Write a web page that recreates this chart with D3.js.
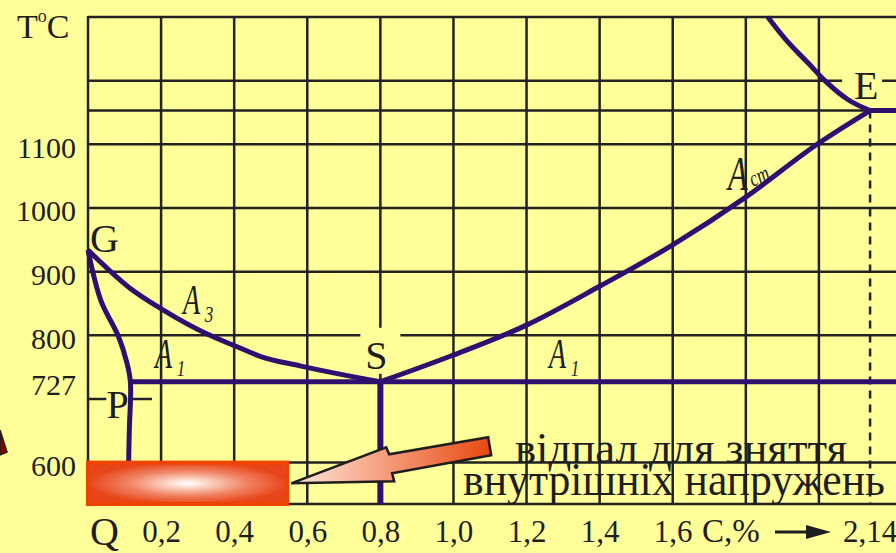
<!DOCTYPE html>
<html>
<head>
<meta charset="utf-8">
<script src="https://cdn.jsdelivr.net/npm/d3@7"></script>
<style>
body { margin: 0; background: #ffff99; overflow: hidden; }
svg { display: block; }
text { font-family: "Liberation Serif", "Times New Roman", serif; fill: #1e1e1e; }
</style>
</head>
<body>
<div id="chart"></div>
<script>
const width = 896;
const height = 553;

// Carbon content (%) and temperature (°C)
const carbonTicks = [0.2, 0.4, 0.6, 0.8, 1.0, 1.2, 1.4, 1.6];
const carbonGrid = [0.2, 0.4, 0.6, 0.8, 1.0, 1.2, 1.4, 1.6, 1.8, 2.0];
const tempTicks = [600, 727, 800, 900, 1000, 1100];
const tempGrid = [600, 800, 900, 1000, 1100, 1153, 1200, 1300];

// Phase lines, [carbon, temperature]
const lineGS = [[0, 934], [0.115, 874], [0.205, 840], [0.326, 802], [0.408, 782], [0.471, 767], [0.58, 752], [0.689, 739], [0.8, 727]];
const lineGPQ = [[0, 934], [0.035, 855], [0.082, 800], [0.105, 760], [0.116, 727], [0.113, 650], [0.11, 560], [0.11, 535]];
const lineSE = [[0.8, 727], [1.0, 769], [1.2, 816], [1.4, 877], [1.6, 942], [1.8, 1017], [2.0, 1102], [2.14, 1153]];
const lineBC = [[1.86, 1300], [1.91, 1264], [1.97, 1228], [2.02, 1198], [2.08, 1170], [2.14, 1153]];
const lineA1 = [[0.116, 727], [2.3, 727]];
const lineECF = [[2.14, 1153], [2.3, 1153]];
const lineSQ = [[0.8, 727], [0.8, 535]];

// Annealing zone
const annealC = [0, 0.545];
const annealT = [535, 600];

const x = d3.scaleLinear().domain([0, 2.2]).range([88, 892]);
const y = d3.scaleLinear().domain([535, 1300]).range([504, 17]);

const svg = d3.select("#chart")
    .append("svg")
    .attr("width", width)
    .attr("height", height);

const defs = svg.append("defs");

const glow = defs.append("radialGradient").attr("id", "glow");
glow.append("stop").attr("offset", "0%").attr("stop-color", "#ffffff");
glow.append("stop").attr("offset", "15%").attr("stop-color", "#fce2d6");
glow.append("stop").attr("offset", "60%").attr("stop-color", "#f08262");
glow.append("stop").attr("offset", "100%").attr("stop-color", "#e8461a");

const arrowGrad = defs.append("linearGradient").attr("id", "arrowGrad");
arrowGrad.append("stop").attr("offset", "0%").attr("stop-color", "#ffe8de");
arrowGrad.append("stop").attr("offset", "100%").attr("stop-color", "#e8480e");

svg.append("rect")
    .attr("width", width)
    .attr("height", height)
    .attr("fill", "#ffff99");

// Grid
const grid = svg.append("g").attr("stroke", "#222").attr("stroke-width", 2.5);

grid.selectAll(".vgrid")
    .data(carbonGrid)
    .join("line")
    .attr("x1", d => x(d)).attr("x2", d => x(d))
    .attr("y1", y(1300)).attr("y2", y(535));

grid.selectAll(".hgrid")
    .data(tempGrid)
    .join("line")
    .attr("x1", x(0)).attr("x2", width)
    .attr("y1", d => y(d)).attr("y2", d => y(d));

grid.append("line")
    .attr("x1", x(0)).attr("x2", x(0))
    .attr("y1", y(1300) - 1).attr("y2", y(535) + 1);

grid.append("line")
    .attr("x1", x(0)).attr("x2", width)
    .attr("y1", y(535)).attr("y2", y(535));

// short mark near P
grid.append("line")
    .attr("x1", x(0)).attr("x2", x(0.175))
    .attr("y1", y(700)).attr("y2", y(700));

// dashed line at 2,14
svg.append("line")
    .attr("x1", x(2.14)).attr("x2", x(2.14))
    .attr("y1", y(1153)).attr("y2", y(535))
    .attr("stroke", "#222")
    .attr("stroke-width", 2.5)
    .attr("stroke-dasharray", "8,6");

// Axes
const yAxis = d3.axisLeft(y).tickValues(tempTicks).tickSize(0).tickPadding(12).tickFormat(d3.format("d"));
svg.append("g")
    .attr("transform", `translate(${x(0)},0)`)
    .call(yAxis)
    .call(g => g.select(".domain").remove())
    .selectAll("text")
    .attr("dy", "0.43em")
    .style("font-size", "30px")
    .style("font-family", "Liberation Serif")
    .attr("fill", "#1e1e1e");

const fmt = d => d3.format(".1f")(d).replace(".", ",");
const xAxis = d3.axisBottom(x).tickValues(carbonTicks).tickSize(0).tickFormat(fmt);
svg.append("g")
    .attr("transform", `translate(0,${y(535)})`)
    .call(xAxis)
    .call(g => g.select(".domain").remove())
    .selectAll("text")
    .attr("y", 38)
    .attr("dy", 0)
    .style("font-size", "31px")
    .style("font-family", "Liberation Serif")
    .attr("fill", "#1e1e1e");

svg.append("text")
    .attr("x", x(2.14))
    .attr("y", y(535) + 38)
    .attr("text-anchor", "middle")
    .style("font-size", "31px")
    .text("2,14");

svg.append("text")
    .attr("x", 702)
    .attr("y", y(535) + 38)
    .style("font-size", "33px")
    .text("C,%");

svg.append("path")
    .attr("d", `M775,${y(535) + 28}H812`)
    .attr("stroke", "#1e1e1e")
    .attr("stroke-width", 3);
svg.append("path")
    .attr("d", `M806,${y(535) + 21}L831,${y(535) + 28}L806,${y(535) + 35}Z`)
    .attr("fill", "#1e1e1e");

// Title
const title = svg.append("text").attr("x", 17).attr("y", 38).style("font-size", "34px");
title.append("tspan").text("T");
title.append("tspan").attr("dy", -16).style("font-size", "18px").text("o");
title.append("tspan").attr("dy", 16).text("C");

// Point labels with background patches
function pointLabel(txt, px, py, box) {
    if (box) {
        svg.append("rect")
            .attr("x", box[0]).attr("y", box[1])
            .attr("width", box[2]).attr("height", box[3])
            .attr("fill", "#ffff99");
    }
    svg.append("text")
        .attr("x", px).attr("y", py)
        .style("font-size", "40px")
        .text(txt);
}

pointLabel("G", x(0) + 2, y(934) + 2);
pointLabel("S", x(0.8) - 15, y(727) - 13, [x(0.8) - 20, y(727) - 54, 40, 46]);
pointLabel("E", x(2.14) - 16, y(1153) - 12, [x(2.14) - 28, y(1153) - 42, 40, 34]);
pointLabel("P", x(0.116) - 24, y(727) + 36, [x(0.116) - 24, y(727) + 6, 26, 30]);
pointLabel("Q", x(0) + 2, y(535) + 41);

// Critical line labels
function critLabel(sub, px, py, size, rot) {
    const g = svg.append("g").attr("transform", `translate(${px},${py})`);
    g.append("text")
        .attr("transform", "scale(0.85,1.25)")
        .style("font-size", size + "px")
        .style("font-style", "italic")
        .text("A");
    g.append("text")
        .attr("transform", `translate(${size * 0.66},${rot ? -3 : 8}) rotate(${rot || 0}) scale(0.9,1.2)`)
        .style("font-size", "19px")
        .style("font-style", "italic")
        .text(sub);
}

critLabel("1", 155, 368, 33);
critLabel("3", 183, 314, 33);
critLabel("1", 549, 368, 33);
critLabel("cm", 728, 190, 38, -25);

// Phase lines
const line = d3.line().x(d => x(d[0])).y(d => y(d[1]));
const smooth = d3.line().x(d => x(d[0])).y(d => y(d[1])).curve(d3.curveMonotoneX);
const bend = d3.line().x(d => x(d[0])).y(d => y(d[1])).curve(d3.curveCatmullRom.alpha(0.5));

const purple = "#2e1070";
[lineGS, lineSE, lineBC].forEach(pts => {
    svg.append("path")
        .attr("d", smooth(pts))
        .attr("fill", "none")
        .attr("stroke", purple)
        .attr("stroke-width", 5);
});
svg.append("path")
    .attr("d", bend(lineGPQ))
    .attr("fill", "none")
    .attr("stroke", purple)
    .attr("stroke-width", 5);
[lineA1, lineECF].forEach(pts => {
    svg.append("path")
        .attr("d", line(pts))
        .attr("fill", "none")
        .attr("stroke", purple)
        .attr("stroke-width", 5);
});
svg.append("path")
    .attr("d", line(lineSQ))
    .attr("fill", "none")
    .attr("stroke", purple)
    .attr("stroke-width", 6);

// Annealing rectangle, over the P-Q line
svg.append("rect")
    .attr("x", x(annealC[0]))
    .attr("y", y(annealT[1]))
    .attr("width", x(annealC[1]) - x(annealC[0]))
    .attr("height", y(annealT[0]) - y(annealT[1]))
    .attr("fill", "url(#glow)")
    .attr("stroke", "#ee4400")
    .attr("stroke-width", 4);

// Pointer arrow
const tipX = x(annealC[1]) + 4;
const tipY = (y(annealT[0]) + y(annealT[1])) / 2;
const arrowShape = [[0, 0], [103, -2], [101, -10], [200, -28], [197, -46], [98, -29], [95, -36]];
svg.append("path")
    .attr("d", "M" + arrowShape.map(p => [tipX + p[0], tipY + p[1]].join(",")).join("L") + "Z")
    .attr("fill", "url(#arrowGrad)")
    .attr("stroke", "#1e1e1e")
    .attr("stroke-width", 2.5)
    .attr("stroke-linejoin", "miter");

// Annotation
svg.append("text")
    .attr("x", 515).attr("y", 463)
    .attr("textLength", 332)
    .attr("lengthAdjust", "spacingAndGlyphs")
    .style("font-size", "45px")
    .text("відпал  для зняття");
svg.append("text")
    .attr("x", 463).attr("y", 495)
    .attr("textLength", 422)
    .attr("lengthAdjust", "spacingAndGlyphs")
    .style("font-size", "47px")
    .text("внутрішніх напружень");

// Partial decoration at left edge
svg.append("path")
    .attr("d", "M0,430L7,452L0,455Z")
    .attr("fill", "#8b0000")
    .attr("stroke", "#1e1e1e")
    .attr("stroke-width", 1.5);
</script>
</body>
</html>
